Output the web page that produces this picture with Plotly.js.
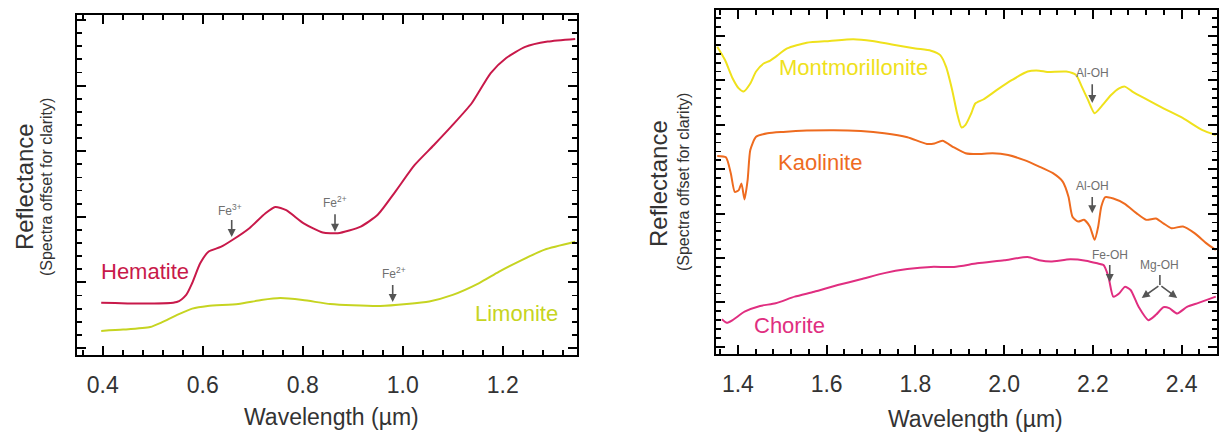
<!DOCTYPE html>
<html>
<head>
<meta charset="utf-8">
<script src="https://cdn.plot.ly/plotly-3.0.1.min.js"></script>
<style>html,body{margin:0;padding:0;background:#fff;}#chart{width:1225px;height:433px;}</style>
</head>
<body>
<div id="chart"></div>
<script>
// ---- Left panel data (wavelength in µm, reflectance offset units) ----
const hematiteX = [0.397,0.548,0.567,0.579,0.595,0.612,0.636,0.660,0.694,0.725,0.745,0.767,0.802,0.840,0.870,0.916,0.950,0.985,1.024,1.062,1.100,1.138,1.176,1.207,1.245,1.290,1.345];
const hematiteY = [0.69,0.70,0.81,0.99,1.29,1.47,1.54,1.65,1.83,2.05,2.15,2.10,1.90,1.76,1.75,1.85,2.03,2.38,2.79,3.09,3.40,3.73,4.19,4.42,4.59,4.67,4.71];
const limoniteX = [0.397,0.441,0.495,0.518,0.548,0.579,0.610,0.671,0.717,0.755,0.800,0.855,0.900,0.955,1.008,1.053,1.100,1.153,1.192,1.238,1.284,1.345];
const limoniteY = [0.26,0.28,0.32,0.39,0.50,0.60,0.64,0.67,0.73,0.76,0.73,0.67,0.65,0.64,0.67,0.71,0.81,0.99,1.16,1.34,1.50,1.62];

// ---- Right panel data ----
const montX = [1.3535,1.371,1.388,1.402,1.413,1.428,1.441,1.458,1.472,1.485,1.511,1.555,1.607,1.660,1.703,1.747,1.800,1.835,1.856,1.869,1.883,1.894,1.904,1.913,1.926,1.935,1.953,1.983,2.018,2.053,2.079,2.097,2.140,2.162,2.175,2.189,2.204,2.219,2.241,2.259,2.272,2.289,2.316,2.359,2.403,2.447,2.477];
const montY = [6.76,6.46,6.05,5.82,5.75,5.93,6.20,6.38,6.44,6.53,6.72,6.85,6.89,6.93,6.89,6.81,6.72,6.67,6.57,6.31,5.78,5.26,4.94,5.00,5.26,5.48,5.57,5.78,6.01,6.20,6.22,6.19,6.20,6.12,5.86,5.56,5.26,5.41,5.67,5.82,5.86,5.75,5.60,5.37,5.15,4.88,4.77];
const kaolX = [1.3535,1.373,1.384,1.393,1.402,1.408,1.415,1.422,1.428,1.441,1.467,1.502,1.555,1.616,1.677,1.730,1.782,1.826,1.843,1.861,1.887,1.913,1.939,1.974,2.009,2.044,2.079,2.110,2.132,2.145,2.154,2.167,2.180,2.193,2.204,2.212,2.219,2.228,2.246,2.272,2.298,2.320,2.342,2.359,2.377,2.403,2.429,2.456,2.477];
const kaolY = [4.30,4.27,3.91,3.49,3.53,3.68,3.32,3.76,4.43,4.73,4.81,4.84,4.87,4.88,4.86,4.81,4.72,4.57,4.58,4.64,4.49,4.36,4.34,4.36,4.32,4.21,4.06,3.91,3.72,3.38,2.93,2.82,2.86,2.71,2.41,2.71,3.16,3.37,3.34,3.22,3.01,2.86,2.89,2.78,2.67,2.71,2.56,2.33,2.18];
const chorX = [1.364,1.375,1.388,1.415,1.450,1.485,1.528,1.572,1.625,1.677,1.730,1.782,1.835,1.887,1.939,2.000,2.053,2.079,2.105,2.149,2.184,2.210,2.224,2.235,2.246,2.259,2.272,2.285,2.303,2.325,2.342,2.359,2.372,2.390,2.412,2.438,2.477];
const chorY = [0.62,0.54,0.60,0.79,0.92,0.98,1.13,1.24,1.39,1.52,1.66,1.75,1.80,1.80,1.88,1.95,2.02,1.95,1.92,1.97,1.94,1.88,1.84,1.58,1.13,1.20,1.35,1.28,0.90,0.60,0.72,0.89,0.87,0.75,0.90,0.99,1.13];

const xTickLeft = [0.4,0.6,0.8,1.0,1.2];
const xTickRight = [1.4,1.6,1.8,2.0,2.2,2.4];

const FONT = 'Liberation Sans, Arial, sans-serif';
const GREY = '#333333';
const C = {hem:'#c8194a', lim:'#c6d421', mont:'#efe11c', kaol:'#ee6b1f', chor:'#e02e80'};

function tr(x,y,color,xa,ya){return {x:x,y:y,type:'scatter',mode:'lines',line:{color:color,width:2,shape:'spline',smoothing:0.6},xaxis:xa,yaxis:ya,hoverinfo:'skip'};}
function ghost(xa,ya){return {x:[],y:[],type:'scatter',mode:'lines',xaxis:xa,yaxis:ya,hoverinfo:'skip',showlegend:false};}

const data = [
  tr(hematiteX,hematiteY,C.hem,'x','y'),
  tr(limoniteX,limoniteY,C.lim,'x','y'),
  tr(montX,montY,C.mont,'x2','y2'),
  tr(kaolX,kaolY,C.kaol,'x2','y2'),
  tr(chorX,chorY,C.chor,'x2','y2'),
  ghost('x3','y'), ghost('x5','y'), ghost('x','y3'), ghost('x','y5'),
  ghost('x4','y2'), ghost('x6','y2'), ghost('x2','y4'), ghost('x2','y6')
];

const D = {lx:[0.06286,0.47102], ly:[0.18014,0.96605], rx:[0.58424,0.99322], ry:[0.18245,0.97691]};
const R = {lx:[0.3486,1.3486], ly:[-0.107,5.08], rx:[1.35,2.479], ry:[-0.162,7.586]};

function axisBase(){return {showline:true,linecolor:'#000',linewidth:2,mirror:'ticks',ticks:'inside',ticklen:9,tickwidth:2,tickcolor:'#000',showgrid:false,zeroline:false,fixedrange:true};}
function minorAxis(domain,range,tick0,dtick,over,anchor,side){return {domain:domain,range:range,tickmode:'linear',tick0:tick0,dtick:dtick,ticks:'inside',ticklen:5,tickwidth:1.8,tickcolor:'#000',showticklabels:false,showline:false,showgrid:false,zeroline:false,overlaying:over,anchor:anchor,side:side,fixedrange:true};}

const xa1 = Object.assign(axisBase(),{domain:D.lx,range:R.lx,tickmode:'array',tickvals:xTickLeft,ticktext:xTickLeft.map(v=>v.toFixed(1)),tickfont:{family:FONT,size:23,color:GREY},ticklabelstandoff:8,anchor:'y'});
const ya1 = Object.assign(axisBase(),{domain:D.ly,range:R.ly,tickmode:'linear',tick0:0,dtick:1,showticklabels:false,anchor:'x'});
const xa2 = Object.assign(axisBase(),{domain:D.rx,range:R.rx,tickmode:'array',tickvals:xTickRight,ticktext:xTickRight.map(v=>v.toFixed(1)),tickfont:{family:FONT,size:23,color:GREY},ticklabelstandoff:8,anchor:'y2'});
const ya2 = Object.assign(axisBase(),{domain:D.ry,range:R.ry,tickmode:'linear',tick0:0,dtick:1,showticklabels:false,anchor:'x2'});

function txt(xref,yref,x,y,text,size,color,extra){return Object.assign({xref:xref,yref:yref,x:x,y:y,text:text,showarrow:false,font:{family:FONT,size:size,color:color},xanchor:'center',yanchor:'middle'},extra||{});}
function arrow(xref,yref,x,y,ax,ay,head){return {xref:xref,yref:yref,axref:xref,ayref:yref,x:x,y:y,ax:ax,ay:ay,text:' ',showarrow:true,arrowhead:head===undefined?2:head,arrowsize:1,arrowwidth:1.6,arrowcolor:'#555555',font:{size:1}};}

const AG = '#707070';
const annotations = [
  // axis titles
  txt('paper','paper',0.0196,0.568,'Reflectance',24,GREY,{textangle:-90}),
  txt('paper','paper',0.0376,0.568,'(Spectra offset for clarity)',16,GREY,{textangle:-90}),
  txt('paper','paper',0.537,0.577,'Reflectance',24,GREY,{textangle:-90}),
  txt('paper','paper',0.5584,0.5797,'(Spectra offset for clarity)',16,GREY,{textangle:-90}),
  txt('paper','paper',0.271,0.037,'Wavelength (µm)',23,GREY),
  txt('paper','paper',0.796,0.032,'Wavelength (µm)',23,GREY),
  // series labels
  txt('x','y',0.484,1.16,'Hematite',22,C.hem),
  txt('x','y',1.227,0.53,'Limonite',22,C.lim),
  txt('x2','y2',1.660,6.28,'Montmorillonite',22,C.mont),
  txt('x2','y2',1.586,4.14,'Kaolinite',22,C.kaol),
  txt('x2','y2',1.516,0.49,'Chorite',22,C.chor),
  // feature labels
  txt('x','y',0.655,2.10,'Fe<sup>3+</sup>',12,AG),
  txt('x','y',0.864,2.23,'Fe<sup>2+</sup>',12,AG),
  txt('x','y',0.982,1.14,'Fe<sup>2+</sup>',12,AG),
  arrow('x','y',0.658,1.69,0.658,1.98),
  arrow('x','y',0.8646,1.77,0.8646,2.07),
  arrow('x','y',0.980,0.70,0.980,0.99),
  txt('x2','y2',2.200,6.17,'Al-OH',12,AG),
  txt('x2','y2',2.200,3.62,'Al-OH',12,AG),
  txt('x2','y2',2.238,2.07,'Fe-OH',12,AG),
  txt('x2','y2',2.350,1.84,'Mg-OH',12,AG),
  arrow('x2','y2',2.1985,5.49,2.1985,5.96),
  arrow('x2','y2',2.1985,3.01,2.1985,3.42),
  arrow('x2','y2',2.238,1.46,2.238,1.89),
  arrow('x2','y2',2.351,1.39,2.351,1.66,0),
  arrow('x2','y2',2.310,1.10,2.351,1.39),
  arrow('x2','y2',2.390,1.10,2.351,1.39)
];

const layout = {
  width:1225,height:433,margin:{l:0,r:0,t:0,b:0},
  paper_bgcolor:'#ffffff',plot_bgcolor:'rgba(0,0,0,0)',showlegend:false,
  xaxis:xa1,yaxis:ya1,xaxis2:xa2,yaxis2:ya2,
  xaxis3:minorAxis(D.lx,R.lx,0.4,0.04,'x','y','bottom'),
  xaxis5:minorAxis(D.lx,R.lx,0.4,0.04,'x','y','top'),
  yaxis3:minorAxis(D.ly,R.ly,0,0.2,'y','x','left'),
  yaxis5:minorAxis(D.ly,R.ly,0,0.2,'y','x','right'),
  xaxis4:minorAxis(D.rx,R.rx,1.4,0.04,'x2','y2','bottom'),
  xaxis6:minorAxis(D.rx,R.rx,1.4,0.04,'x2','y2','top'),
  yaxis4:minorAxis(D.ry,R.ry,0,0.2,'y2','x2','left'),
  yaxis6:minorAxis(D.ry,R.ry,0,0.2,'y2','x2','right'),
  annotations:annotations,
  font:{family:FONT,color:GREY}
};

Plotly.newPlot('chart',data,layout,{displayModeBar:false,staticPlot:true});
</script>
</body>
</html>
